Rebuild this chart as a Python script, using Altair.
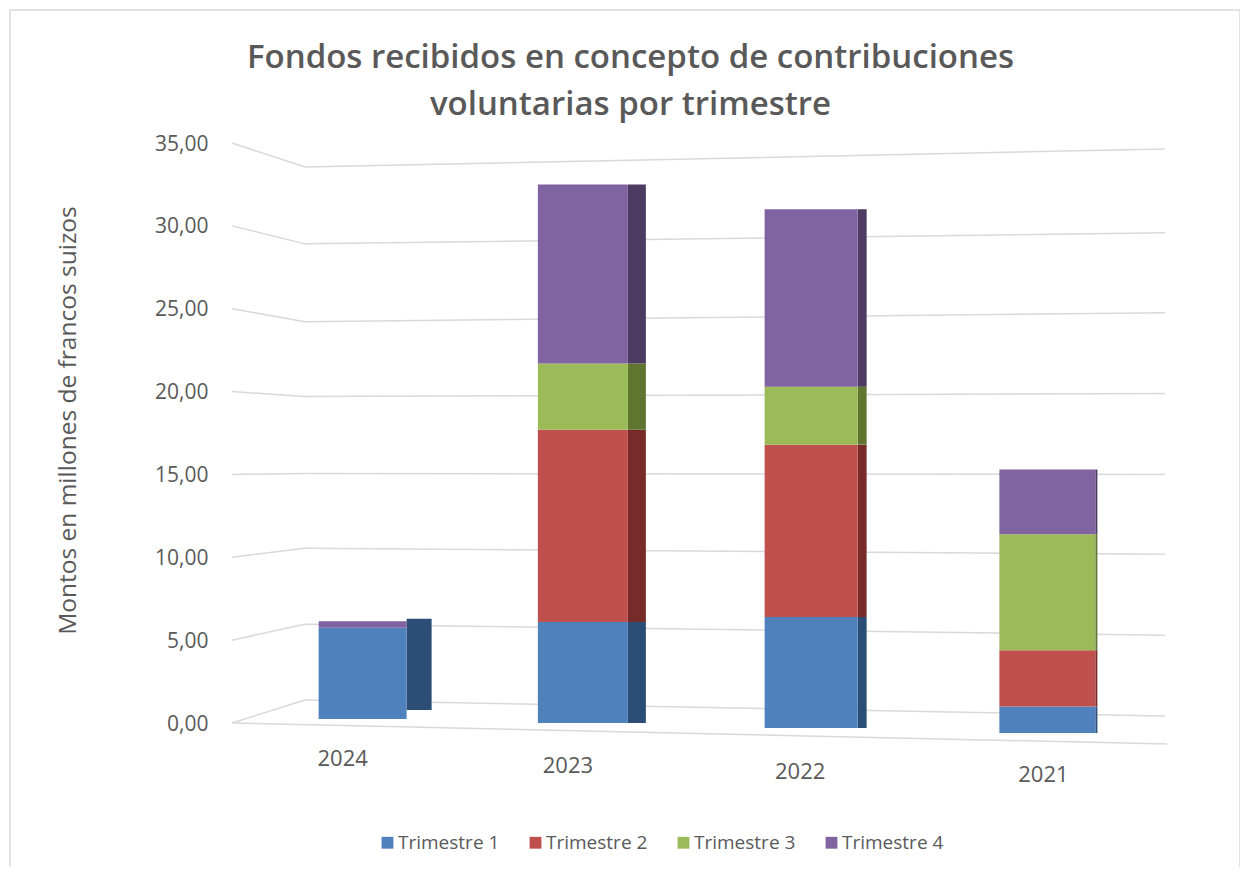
import altair as alt
import pandas as pd

years = ["2024", "2023", "2022", "2021"]
quarters = ["Trimestre 1", "Trimestre 2", "Trimestre 3", "Trimestre 4"]
q1 = [5.5, 6.1, 6.7, 1.6]
q2 = [0.0, 11.6, 10.4, 3.4]
q3 = [0.0, 4.0, 3.5, 7.0]
q4 = [0.4, 10.8, 10.7, 3.9]
ticks = [0, 5, 10, 15, 20, 25, 30, 35]

front = ["#4F81BD", "#C0504D", "#9BBB59", "#8064A2"]
side = ["#2C4D75", "#772C2A", "#5F7530", "#4D3B62"]
TXT = "#595959"
FONT = "Open Sans"

rows = []
for i, y in enumerate(years):
    for q, s in zip(quarters, (q1, q2, q3, q4)):
        rows.append({"year": y, "quarter": q, "value": s[i], "ord": quarters.index(q)})
df = pd.DataFrame(rows)

W, H = 933, 580
yscale = alt.Scale(domain=[0, 35], nice=False)
xscale = alt.Scale(domain=years, paddingInner=0, paddingOuter=0)
xs = alt.X("year:N", sort=years, scale=xscale, axis=None)
ys = alt.Y("sum(value):Q", scale=yscale)

# styling of the pseudo-3D per year: bar width, x shift, floor shift, side width, side shift
style = {
    "2024": dict(w=88, dx=14, dy=-4, sw=25, sy=-9, lx=-6, ly=36),
    "2023": dict(w=90, dx=1, dy=0, sw=18, sy=0, lx=-14, ly=43),
    "2022": dict(w=93, dx=-4, dy=5, sw=9, sy=0, lx=-15, ly=49),
    "2021": dict(w=96, dx=-1, dy=10, sw=2, sy=0, lx=-5, ly=52),
}
left_dy = [-23, -16, -9, -1, 5, 13, 18, 24]
right_dy = [-7, -5, -3, 0, 2, 4, 7, 6]

layers = []

# outer chart frame
frame = alt.Chart(pd.DataFrame({"a": [0]})).mark_rect(fillOpacity=0, stroke="#D9D9D9", strokeWidth=1.5).encode(
    x=alt.value(-222), x2=alt.value(1008), y=alt.value(-133), y2=alt.value(729)
)
layers.append(frame)

axis_layer = alt.Chart(pd.DataFrame({"tick": ticks})).mark_point(opacity=0).encode(
    y=alt.Y("tick:Q", scale=yscale,
            axis=alt.Axis(values=ticks, grid=False, domain=False, ticks=False, zindex=1,
                          labelExpr="replace(format(datum.value,'.2f'),'.',',')",
                          labelFont=FONT, labelFontSize=21, labelColor=TXT, labelPadding=24, labelOffset=1,
                          title="Montos en millones de francos suizos",
                          titleFont=FONT, titleFontSize=24.5, titleFontWeight=500, titleColor=TXT,
                          titleX=-152, titleY=277))
)
layers.append(axis_layer)

grid_color = "#D9D9D9"
for t, a, c in zip(ticks, left_dy, right_dy):
    tdf = pd.DataFrame({"tick": [t]})
    layers.append(
        alt.Chart(tdf).mark_rule(color=grid_color, strokeWidth=1.5, yOffset=0, y2Offset=a).encode(
            x=alt.value(0), x2=alt.value(73),
            y=alt.Y("tick:Q", scale=yscale), y2=alt.Y2("tick")
        )
    )
    layers.append(
        alt.Chart(tdf).mark_rule(color=grid_color, strokeWidth=1.5, yOffset=a, y2Offset=c).encode(
            x=alt.value(73), x2=alt.value(933),
            y=alt.Y("tick:Q", scale=yscale), y2=alt.Y2("tick")
        )
    )
# front floor edge
layers.append(
    alt.Chart(pd.DataFrame({"tick": [0]})).mark_rule(color=grid_color, strokeWidth=1.5, yOffset=0, y2Offset=21).encode(
        x=alt.value(0), x2=alt.value(935),
        y=alt.Y("tick:Q", scale=yscale), y2=alt.Y2("tick")
    )
)

order = alt.Order("ord:Q", sort="ascending")
for y in years:
    st = style[y]
    sub = df[df.year == y]
    # the side face of the 2024 column is only blue: its purple is just the lid
    side_sub = sub[sub.value >= 1]
    layers.append(
        alt.Chart(side_sub).mark_bar(width=st["sw"], xOffset=st["dx"] + st["w"] / 2 + st["sw"] / 2,
                                     yOffset=st["dy"] + st["sy"], y2Offset=st["dy"] + st["sy"]).encode(
            x=xs, y=ys, order=order,
            color=alt.Color("quarter:N", scale=alt.Scale(domain=quarters, range=side), legend=None),
        )
    )
    layers.append(
        alt.Chart(sub).mark_bar(width=st["w"], xOffset=st["dx"], yOffset=st["dy"], y2Offset=st["dy"]).encode(
            x=xs, y=ys, order=order,
            fill=alt.Fill("quarter:N", scale=alt.Scale(domain=quarters, range=front),
                          legend=alt.Legend(title=None, orient="none", direction="horizontal",
                                            legendX=146, legendY=690, symbolType="square", symbolSize=140,
                                            labelFont=FONT, labelFontSize=19, labelColor=TXT, labelOffset=1,
                                            columnPadding=26, symbolStrokeWidth=0)),
        )
    )
    layers.append(
        alt.Chart(pd.DataFrame({"year": [y], "base": [0]})).mark_text(
            font=FONT, fontSize=22, color=TXT, dx=st["lx"], dy=st["ly"]
        ).encode(x=alt.X("year:N", sort=years, scale=xscale, axis=None),
                 y=alt.Y("base:Q", scale=yscale),
                 text="year:N")
    )

chart = alt.layer(*layers).resolve_scale(color="independent", fill="shared").properties(
    width=W, height=H,
    padding={"left": 224, "top": 135, "right": 75, "bottom": 144},
    autosize=alt.AutoSizeParams(type="none"),
    title=alt.TitleParams(
        text=["Fondos recibidos en concepto de contribuciones", "voluntarias por trimestre"],
        font=FONT, fontSize=33, fontWeight=600, color=TXT, anchor="middle", dx=-68, lineHeight=47, offset=-113,
    ),
    background="white",
).configure_view(stroke=None)

chart.save("out.html", embed_options={"renderer": "svg", "actions": False})
